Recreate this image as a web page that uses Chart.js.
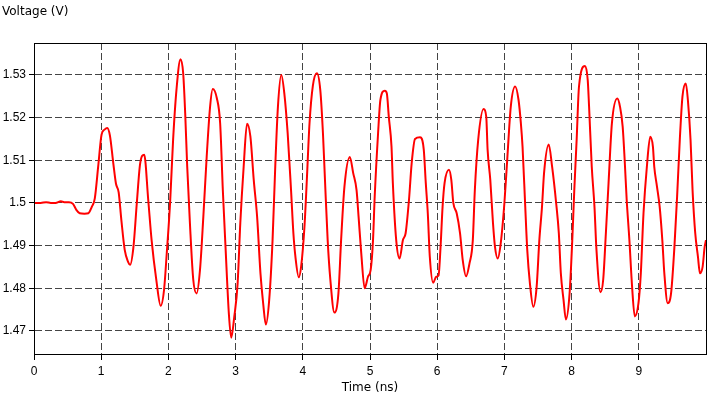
<!DOCTYPE html>
<html><head><meta charset="utf-8">
<script src="https://cdn.jsdelivr.net/npm/chart.js@4/dist/chart.umd.min.js"></script>
<style>html,body{margin:0;padding:0;background:#fff}#wrap{width:712px;height:396px}</style>
</head><body><div id="wrap"><canvas id="c" width="712" height="396"></canvas></div>
<script>
const timeNs = [0,0.1,0.18,0.25,0.32,0.4,0.45,0.52,0.58,0.63,0.68,0.75,0.81,0.86,0.905,0.955,1.005,1.05,1.09,1.13,1.18,1.22,1.26,1.30,1.35,1.40,1.43,1.48,1.53,1.58,1.64,1.70,1.75,1.82,1.885,1.935,1.975,2.025,2.07,2.12,2.18,2.22,2.25,2.28,2.32,2.37,2.42,2.47,2.52,2.57,2.62,2.66,2.72,2.77,2.81,2.85,2.90,2.935,2.98,3.03,3.07,3.12,3.17,3.22,3.27,3.32,3.37,3.41,3.45,3.50,3.55,3.59,3.63,3.68,3.725,3.775,3.825,3.86,3.89,3.94,3.975,4.025,4.06,4.10,4.15,4.21,4.26,4.30,4.33,4.37,4.41,4.47,4.53,4.57,4.62,4.70,4.75,4.80,4.83,4.87,4.92,4.97,5.01,5.045,5.07,5.12,5.155,5.22,5.25,5.28,5.32,5.34,5.39,5.44,5.49,5.53,5.58,5.62,5.67,5.745,5.80,5.83,5.86,5.89,5.94,5.985,6.02,6.05,6.08,6.11,6.175,6.21,6.24,6.29,6.34,6.38,6.43,6.48,6.53,6.56,6.61,6.69,6.73,6.75,6.79,6.83,6.86,6.90,6.945,7.0,7.045,7.095,7.16,7.21,7.245,7.27,7.31,7.34,7.38,7.43,7.48,7.52,7.56,7.59,7.66,7.71,7.77,7.81,7.84,7.88,7.915,7.97,8.01,8.04,8.075,8.11,8.20,8.24,8.26,8.30,8.34,8.37,8.43,8.47,8.51,8.55,8.60,8.68,8.72,8.76,8.79,8.82,8.86,8.90,8.94,8.995,9.03,9.07,9.12,9.17,9.21,9.23,9.27,9.31,9.35,9.38,9.43,9.48,9.53,9.57,9.61,9.65,9.70,9.73,9.77,9.80,9.84,9.88,9.91,9.95,9.98,10.0];
const voltage = [1.5,1.5,1.5002,1.5,1.5,1.5004,1.5002,1.5002,1.4998,1.4984,1.4976,1.4975,1.4976,1.4991,1.5011,1.5085,1.516,1.5172,1.5176,1.5158,1.5093,1.5045,1.5025,1.496,1.489,1.4862,1.4855,1.4897,1.5,1.5093,1.5113,1.5007,1.4913,1.482,1.4759,1.4796,1.4881,1.5,1.5148,1.5265,1.5337,1.5304,1.521,1.5085,1.4953,1.482,1.4788,1.4843,1.4968,1.5109,1.5225,1.5267,1.5246,1.5187,1.503,1.4897,1.474,1.4684,1.4733,1.4811,1.4953,1.5085,1.5186,1.5156,1.5054,1.4968,1.4835,1.4765,1.4715,1.4773,1.4913,1.5085,1.5226,1.53,1.5257,1.5163,1.503,1.4929,1.4874,1.4826,1.4851,1.4945,1.5054,1.5187,1.5275,1.5304,1.5265,1.5163,1.5054,1.4913,1.482,1.4743,1.4788,1.4913,1.5039,1.5108,1.507,1.503,1.4968,1.4882,1.48,1.4827,1.4843,1.4913,1.5015,1.5163,1.5242,1.5263,1.5257,1.5202,1.5132,1.5047,1.4913,1.487,1.4913,1.4929,1.5007,1.5093,1.515,1.5154,1.5125,1.5047,1.4976,1.4874,1.4813,1.4827,1.483,1.4897,1.4991,1.5047,1.5078,1.5054,1.5,1.4976,1.4929,1.4866,1.4828,1.4858,1.4913,1.503,1.5148,1.522,1.5202,1.5125,1.5054,1.4953,1.4897,1.487,1.4905,1.5,1.5109,1.5226,1.5273,1.5242,1.5187,1.5132,1.4992,1.489,1.4811,1.4757,1.4804,1.4913,1.4992,1.507,1.5137,1.5085,1.5,1.4929,1.4835,1.4773,1.4727,1.4788,1.4913,1.503,1.5148,1.5273,1.5321,1.5288,1.5226,1.5085,1.4992,1.489,1.4791,1.482,1.4929,1.5047,1.5187,1.5245,1.5226,1.5179,1.51,1.5007,1.4913,1.4804,1.4734,1.4765,1.4835,1.4976,1.5085,1.5155,1.5132,1.5085,1.5039,1.4992,1.4913,1.4835,1.4765,1.4788,1.4897,1.5015,1.5148,1.525,1.528,1.5242,1.5148,1.503,1.4929,1.4874,1.4835,1.4851,1.4897,1.4913];
const xTicks = [0,1,2,3,4,5,6,7,8,9];
const yTicks = [1.47,1.48,1.49,1.5,1.51,1.52,1.53];
const xTitle = 'Time (ns)';
const yTitle = 'Voltage (V)';

const FONT = {family: '"Liberation Sans", Arial, sans-serif', size: 12, weight: 'normal'};
const TFONT = {family: '"DejaVu Sans", sans-serif', size: 12, weight: 'normal'};
const points = timeNs.map((t, i) => ({x: t, y: voltage[i]}));

const frame = {
  id: 'frame',
  afterDatasetsDraw(chart) {
    const a = chart.chartArea, ctx = chart.ctx;
    ctx.save();
    ctx.strokeStyle = '#000';
    ctx.lineWidth = 1;
    ctx.setLineDash([]);
    ctx.strokeRect(Math.round(a.left) + 0.5, Math.round(a.top) + 0.5, Math.round(a.right - a.left), Math.round(a.bottom - a.top));
    ctx.restore();
  }
};

new Chart(document.getElementById('c'), {
  type: 'line',
  data: {datasets: [{data: points, borderColor: '#ff0000', borderWidth: 2, pointRadius: 0, cubicInterpolationMode: 'monotone', fill: false}]},
  plugins: [frame],
  options: {
    responsive: false,
    animation: false,
    events: [],
    layout: {padding: {left: 2, right: 6, top: 0, bottom: 0}},
    plugins: {
      legend: {display: false},
      tooltip: {enabled: false},
      title: {display: true, text: yTitle, align: 'start', color: '#000', font: TFONT, padding: {top: 5, bottom: 23.6}}
    },
    scales: {
      x: {
        type: 'linear', min: 0, max: 10,
        afterBuildTicks: s => { s.ticks = xTicks.map(v => ({value: v})); },
        afterFit: s => { s.height = 42; },
        ticks: {color: '#000', font: FONT, padding: 4, maxRotation: 0, autoSkip: false},
        grid: {color: '#444', lineWidth: 1, tickLength: 6, tickColor: '#000', tickBorderDash: [], drawOnChartArea: true},
        border: {display: true, color: '#000', dash: [7, 3]},
        title: {display: true, text: xTitle, color: '#000', font: TFONT, padding: {top: 0, bottom: 1}}
      },
      y: {
        type: 'linear', min: 1.4646, max: 1.5375,
        afterBuildTicks: s => { s.ticks = yTicks.map(v => ({value: v})); },
        afterFit: s => { s.width = 32; },
        ticks: {color: '#000', font: FONT, padding: 3, callback: v => String(Math.round(v * 100) / 100)},
        grid: {color: '#444', lineWidth: 1, tickLength: 5, tickColor: '#000', tickBorderDash: []},
        border: {display: true, color: '#000', dash: [7, 3]}
      }
    }
  }
});
</script></body></html>
